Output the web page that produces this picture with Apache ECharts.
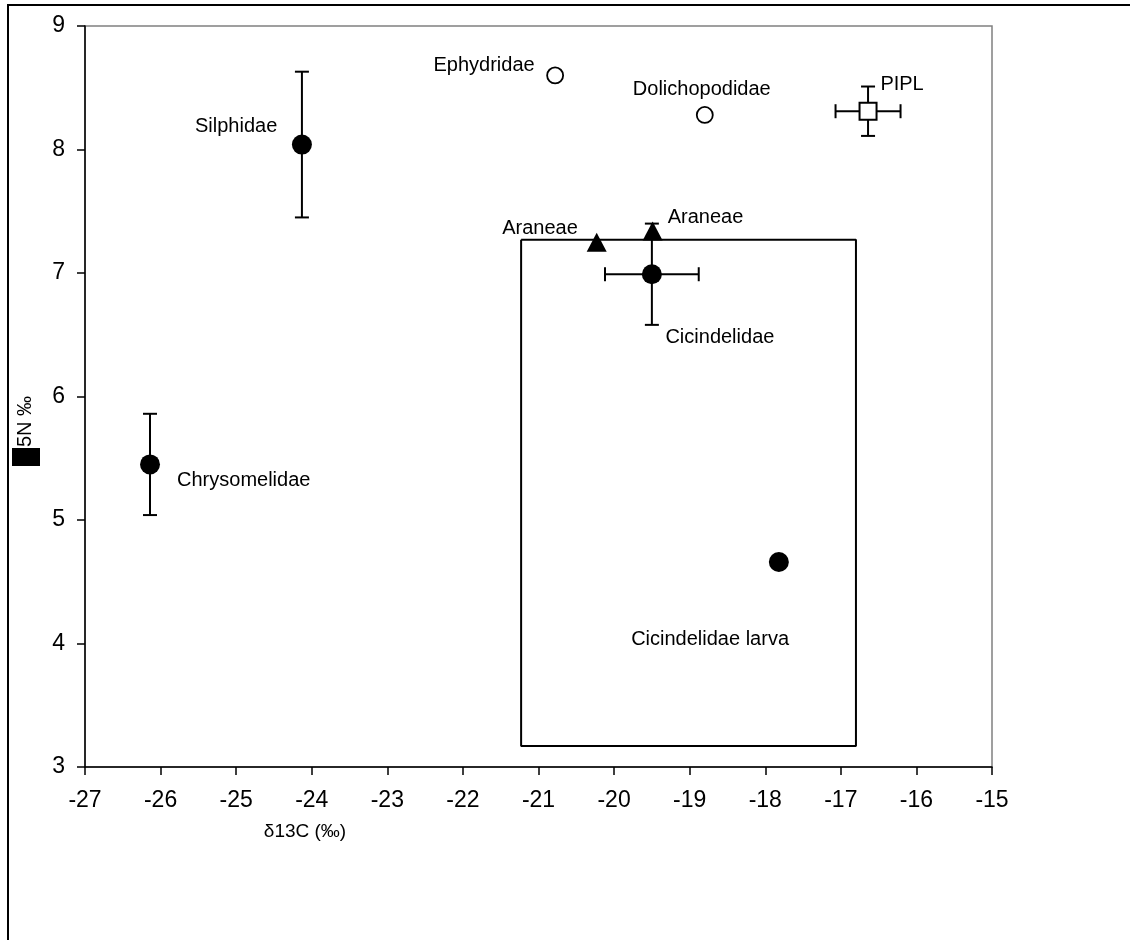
<!DOCTYPE html>
<html>
<head>
<meta charset="utf-8">
<script src="https://cdn.jsdelivr.net/npm/echarts@6/dist/echarts.min.js"></script>
<style>
  html, body { margin: 0; padding: 0; background: #fff; }
  #chart { width: 1130px; height: 940px; }
</style>
</head>
<body>
<div id="chart"></div>
<script>
// 数据：δ13C / δ15N
// 实心圆
const filledNames = ['Silphidae', 'Chrysomelidae', 'Cicindelidae', 'Cicindelidae larva'];
const filledX = [-24.13, -26.14, -19.5, -17.82];
const filledY = [8.04, 5.45, 6.99, 4.66];
// 空心圆
const openNames = ['Ephydridae', 'Dolichopodidae'];
const openX = [-20.78, -18.8];
const openY = [8.6, 8.28];
// 空心方块
const squareX = [-16.64];
const squareY = [8.31];
// 三角
const triX = [-20.23, -19.49];
const triY = [7.25, 7.34];

// 误差线
const errX = [-24.13, -26.14, -19.5, -16.64];
const errY = [8.04, 5.45, 6.99, 8.31];
const errXSize = [0, 0.07, 0.62, 0.43];
const errYSize = [0.59, 0.41, 0.41, 0.2];

// 方框
const boxX = [-21.23, -16.8, -16.8, -21.23, -21.23];
const boxY = [7.27, 7.27, 3.17, 3.17, 7.27];

// 文字标注
const labelText = ['Ephydridae', 'Dolichopodidae', 'PIPL', 'Silphidae', 'Araneae', 'Araneae',
  'Cicindelidae', 'Chrysomelidae', 'Cicindelidae larva'];
const labelX = [-21.72, -18.84, -16.19, -25.0, -20.98, -18.79, -18.6, -24.9, -18.73];
const labelY = [8.68, 8.49, 8.53, 8.19, 7.36, 7.45, 6.48, 5.32, 4.03];

const xTicks = [-27, -26, -25, -24, -23, -22, -21, -20, -19, -18, -17, -16, -15];
const yTicks = [3, 4, 5, 6, 7, 8, 9];

const zip = (a, b) => a.map((v, i) => [v, b[i]]);

var myChart = echarts.init(document.getElementById('chart'));
const font = 'Liberation Sans, Arial, sans-serif';

var option = {
  animation: false,
  backgroundColor: '#fff',
  grid: {
    left: 85, right: 138, top: 26, bottom: 173,
    show: true, borderColor: '#808080', borderWidth: 1.5
  },
  xAxis: {
    type: 'value',
    min: xTicks[0], max: xTicks[xTicks.length - 1], interval: 1,
    axisLine: { show: true, onZero: false, lineStyle: { color: '#000', width: 1.5 } },
    axisTick: { show: true, inside: false, length: 8, lineStyle: { color: '#000', width: 1.5 } },
    splitLine: { show: false },
    axisLabel: { color: '#000', fontSize: 23, fontFamily: font, margin: 22 }
  },
  yAxis: {
    type: 'value',
    min: yTicks[0], max: yTicks[yTicks.length - 1], interval: 1,
    axisLine: { show: true, onZero: false, lineStyle: { color: '#000', width: 1.5 } },
    axisTick: { show: true, inside: false, length: 8, lineStyle: { color: '#000', width: 1.5 } },
    splitLine: { show: false },
    axisLabel: { color: '#000', fontSize: 23, fontFamily: font, margin: 20 }
  },
  graphic: [
    { type: 'rect', shape: { x: 8, y: 5, width: 1200, height: 1000 },
      style: { fill: 'none', stroke: '#000', lineWidth: 2 }, z: 0, silent: true },
    { type: 'text', x: 305, y: 832,
      style: { text: 'δ13C (‰)', fontSize: 19, fontFamily: font, fill: '#000',
        align: 'center', verticalAlign: 'middle' } },
    { type: 'text', x: 25, y: 447, rotation: Math.PI / 2,
      style: { text: '5N ‰', fontSize: 20, fontFamily: font, fill: '#000',
        align: 'left', verticalAlign: 'middle' } },
    { type: 'rect', shape: { x: 12, y: 448, width: 28, height: 18 },
      style: { fill: '#000' }, z: 100 }
  ],
  series: [
    {
      name: 'box', type: 'line', data: zip(boxX, boxY),
      symbol: 'none', lineStyle: { color: '#000', width: 2 }, z: 1
    },
    {
      name: 'error', type: 'custom', z: 2,
      data: errX.map((x, i) => [x, errY[i], errXSize[i], errYSize[i]]),
      renderItem: function (params, api) {
        const x = api.value(0), y = api.value(1), ex = api.value(2), ey = api.value(3);
        const children = [];
        const cap = 7;
        const st = { stroke: '#000', lineWidth: 2 };
        if (ey > 0) {
          const t = api.coord([x, y + ey]), b = api.coord([x, y - ey]);
          children.push({ type: 'line', shape: { x1: t[0], y1: t[1], x2: b[0], y2: b[1] }, style: st });
          children.push({ type: 'line', shape: { x1: t[0] - cap, y1: t[1], x2: t[0] + cap, y2: t[1] }, style: st });
          children.push({ type: 'line', shape: { x1: b[0] - cap, y1: b[1], x2: b[0] + cap, y2: b[1] }, style: st });
        }
        if (ex > 0) {
          const l = api.coord([x - ex, y]), r = api.coord([x + ex, y]);
          children.push({ type: 'line', shape: { x1: l[0], y1: l[1], x2: r[0], y2: r[1] }, style: st });
          children.push({ type: 'line', shape: { x1: l[0], y1: l[1] - cap, x2: l[0], y2: l[1] + cap }, style: st });
          children.push({ type: 'line', shape: { x1: r[0], y1: r[1] - cap, x2: r[0], y2: r[1] + cap }, style: st });
        }
        return { type: 'group', children: children };
      }
    },
    {
      name: 'filled', type: 'scatter', data: zip(filledX, filledY), z: 3,
      symbol: 'circle', symbolSize: 20, itemStyle: { color: '#000', opacity: 1 }
    },
    {
      name: 'open', type: 'scatter', data: zip(openX, openY), z: 3,
      symbol: 'circle', symbolSize: 16,
      itemStyle: { color: '#fff', borderColor: '#000', borderWidth: 1.8, opacity: 1 }
    },
    {
      name: 'square', type: 'scatter', data: zip(squareX, squareY), z: 3,
      symbol: 'rect', symbolSize: 17,
      itemStyle: { color: '#fff', borderColor: '#000', borderWidth: 2, opacity: 1 }
    },
    {
      name: 'tri', type: 'scatter', data: zip(triX, triY), z: 4,
      symbol: 'triangle', symbolSize: [20, 19], itemStyle: { color: '#000', opacity: 1 }
    },
    {
      name: 'labels', type: 'scatter', z: 5, symbol: 'circle', symbolSize: 1,
      itemStyle: { color: '#fff', opacity: 1 },
      data: labelX.map((x, i) => ({ value: [x, labelY[i]], name: labelText[i] })),
      label: {
        show: true, position: 'inside', formatter: '{b}', opacity: 1,
        color: '#000', fontSize: 20, fontFamily: font
      }
    }
  ]
};
myChart.setOption(option);
</script>
</body>
</html>
